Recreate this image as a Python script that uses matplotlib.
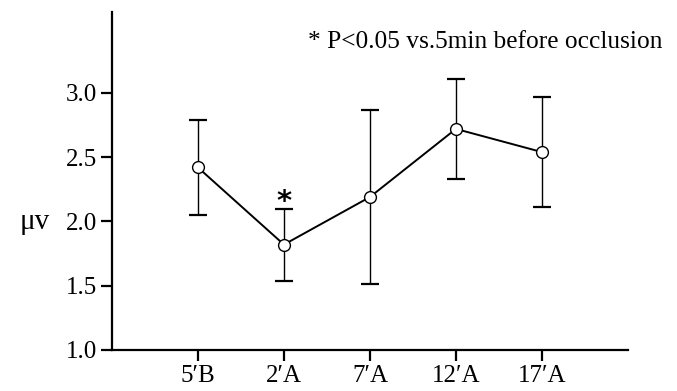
import matplotlib.pyplot as plt

# data
groups = ["5\u2032B", "2\u2032A", "7\u2032A", "12\u2032A", "17\u2032A"]
means = [2.42, 1.82, 2.19, 2.72, 2.54]
errs = [0.37, 0.28, 0.68, 0.39, 0.43]
yticks = [1.0, 1.5, 2.0, 2.5, 3.0]
xpos = [1, 2, 3, 4, 5]

plt.rcParams['font.family'] = ['Liberation Serif', 'DejaVu Serif']

fig = plt.figure(figsize=(6.77, 3.91), dpi=100)
ax = fig.add_axes([0.1654, 0.1049, 0.762, 0.8645])

ax.errorbar(xpos, means, yerr=errs, fmt='none', ecolor='black',
            elinewidth=1.0, capsize=6.5, capthick=1.6, zorder=2)
ax.plot(xpos, means, color='black', lw=1.4, marker='o', ms=8.5,
        mfc='white', mec='black', mew=1.0, zorder=3)

# significance star over 2'A
ax.text(xpos[1], means[1] + errs[1] - 0.06, '*', ha='center', va='bottom',
        fontsize=21, fontweight='bold', family='DejaVu Sans')

ax.text(0.38, 0.911, '* P<0.05 vs.5min before occlusion', transform=ax.transAxes,
        ha='left', va='center', fontsize=18.3, clip_on=False)

ax.set_xlim(0, 6)
ax.set_ylim(1.0, 3.63)
ax.set_xticks(xpos)
ax.set_xticklabels(groups)
ax.set_yticks(yticks)
ax.set_yticklabels([f"{v:.1f}" for v in yticks])
ax.tick_params(labelsize=18, width=1.6, length=8, direction='out', pad=3)

ax.set_ylabel('\u03bcv', rotation=0, fontsize=21, ha='center', va='center')
ax.yaxis.set_label_coords(-0.15, 0.379)

for s in ['top', 'right']:
    ax.spines[s].set_visible(False)
for s in ['left', 'bottom']:
    ax.spines[s].set_linewidth(1.6)

fig.savefig('out.png', dpi=100)
